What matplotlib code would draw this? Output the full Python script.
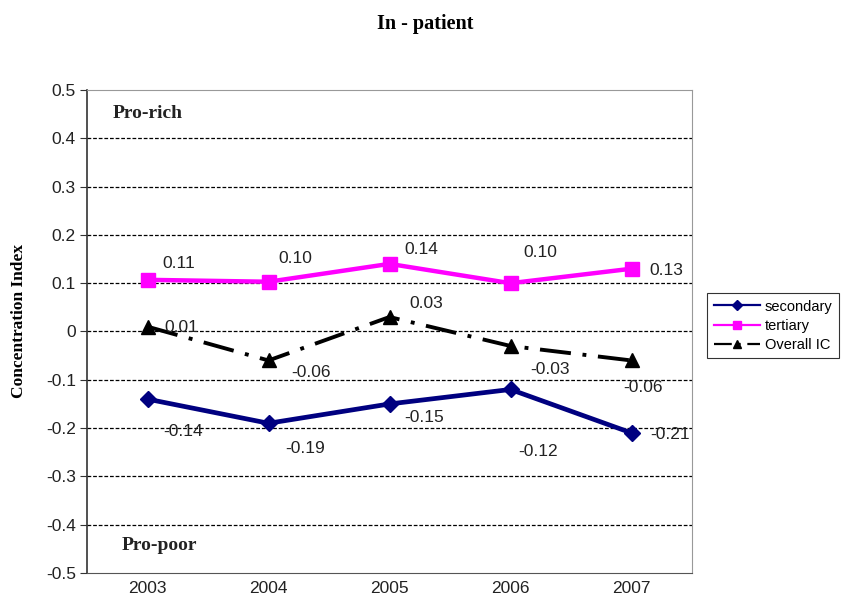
import numpy as np
import matplotlib.pyplot as plt
from matplotlib.lines import Line2D

years = ["2003", "2004", "2005", "2006", "2007"]
secondary = [-0.14, -0.19, -0.15, -0.12, -0.21]
tertiary = [0.107, 0.103, 0.14, 0.10, 0.13]
overall = [0.01, -0.06, 0.03, -0.03, -0.06]

sec_labels = ["-0.14", "-0.19", "-0.15", "-0.12", "-0.21"]
ter_labels = ["0.11", "0.10", "0.14", "0.10", "0.13"]
ove_labels = ["0.01", "-0.06", "0.03", "-0.03", "-0.06"]

# label offsets in pixels (dx, dy)
sec_off = [(36, -32), (37, -25), (35, -14), (28, -62), (39, -2)]
ter_off = [(31, 16), (27, 23), (32, 14), (30, 31), (35, -2)]
ove_off = [(34, -1), (42, -12), (37, 14), (39, -24), (11, -27)]

SANS = "Liberation Sans"
SERIF = "Liberation Serif"

fig = plt.figure(figsize=(8.47, 5.96), dpi=100)
ax = fig.add_axes([87 / 847, 1 - 573 / 596, (692 - 87) / 847, (573 - 90) / 596])

x = np.arange(len(years))
ax.plot(x, secondary, color="#000080", lw=3.4, marker="D", ms=8, zorder=3)
ax.plot(x, tertiary, color="#ff00ff", lw=3.2, marker="s", ms=9.5, zorder=3)
ax.plot(x, overall, color="black", lw=2.8, dashes=(8, 3, 1, 3), dash_capstyle="butt",
        marker="^", ms=10, zorder=3)

for vals, labs, offs in [(secondary, sec_labels, sec_off), (tertiary, ter_labels, ter_off),
                         (overall, ove_labels, ove_off)]:
    for i, (v, t) in enumerate(zip(vals, labs)):
        ax.annotate(t, (x[i], v), xytext=offs[i], textcoords="offset pixels",
                    ha="center", va="center", fontsize=12.5, family=SANS, color="#222222",
                    clip_on=True)

yt = np.round(np.arange(-0.5, 0.51, 0.1), 1)
ax.set_xlim(-0.5, len(years) - 0.5)
ax.set_ylim(-0.5, 0.5)
ax.set_yticks(yt)
ax.set_yticklabels([f"{v:g}" if v != 0 else "0" for v in yt])
ax.set_xticks(x)
ax.set_xticklabels(years)
for lab in ax.get_xticklabels() + ax.get_yticklabels():
    lab.set_family(SANS)
    lab.set_fontsize(12.5)
    lab.set_color("#222222")
ax.tick_params(axis="x", length=0, pad=6)
ax.tick_params(axis="y", length=5, direction="out", color="#333333", pad=3)

for y in yt[1:-1]:
    ax.axhline(y, color="black", lw=0.9, ls=(0, (3, 1.5)), zorder=1)

for s in ["top", "right"]:
    ax.spines[s].set_color("#999999")
ax.spines["bottom"].set_color("#555555")
ax.spines["left"].set_color("#333333")
ax.spines["left"].set_linewidth(1.2)

ax.text(113 / 847, 1 - 113 / 596, "Pro-rich", transform=fig.transFigure, fontsize=14,
        fontweight="bold", family=SERIF, color="#222222", va="center")
ax.text(122 / 847, 1 - 545 / 596, "Pro-poor", transform=fig.transFigure, fontsize=14,
        fontweight="bold", family=SERIF, color="#222222", va="center")

fig.text(19 / 847, 1 - 321 / 596, "Concentration Index", rotation=90, ha="center", va="center",
         family=SERIF, fontweight="bold", fontsize=12.5)
fig.text(425 / 847, 1 - 24 / 596, "In - patient", ha="center", va="center", family=SERIF,
         fontweight="bold", fontsize=14.5)

handles = [
    Line2D([], [], color="#000080", lw=1.6, marker="D", ms=5),
    Line2D([], [], color="#ff00ff", lw=1.6, marker="s", ms=6),
    Line2D([], [], color="black", lw=1.6, dashes=(8, 3, 1, 3), marker="^", ms=6),
]
leg = fig.legend(handles, ["secondary", "tertiary", "Overall IC"], loc="upper left",
                 bbox_to_anchor=(707 / 847, 1 - 293 / 596), prop={"family": SANS, "size": 10.5},
                 frameon=True, fancybox=False, edgecolor="black", handlelength=3.2,
                 borderpad=0.45, labelspacing=0.35, handletextpad=0.3, borderaxespad=0)
leg.get_frame().set_linewidth(0.8)

fig.savefig("out.png", dpi=100)
